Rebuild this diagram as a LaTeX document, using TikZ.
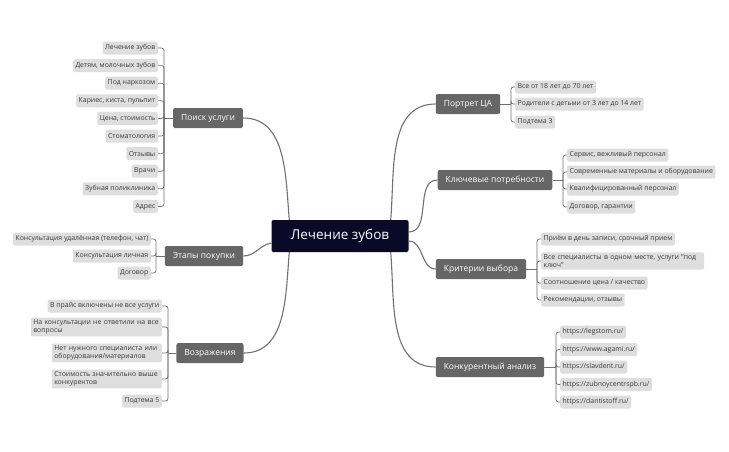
\documentclass[tikz,border=0pt]{standalone}
\usepackage{fontspec}
\setmainfont{Open Sans}
\usetikzlibrary{calc}
\begin{document}
\begin{tikzpicture}[x=1pt,y=-1pt,
 central/.style={fill=cdark,text=white,rounded corners=2pt,minimum width=137pt,minimum height=32pt,font=\fontsize{13.5}{15}\selectfont},
 topic/.style={fill=ctop,text=white,rounded corners=2pt,minimum height=20pt,inner xsep=8pt,font=\fontsize{8.5}{10}\selectfont},
 leaf/.style={fill=cleaf,text=ctext,rounded corners=2pt,inner xsep=2.5pt,inner ysep=2pt,minimum height=13pt,font=\fontsize{6.9}{8.3}\selectfont},
 leafL/.style={leaf,anchor=east},
 leafR/.style={leaf,anchor=west},
 ml/.style={text width=#1,align=left},
 br/.style={draw=cline,line width=0.7pt,rounded corners=2.5pt},
 main/.style={draw=cline,line width=1.1pt}]
\definecolor{cdark}{HTML}{0A0A28}
\definecolor{ctop}{HTML}{666666}
\definecolor{cleaf}{HTML}{DEDEDE}
\definecolor{ctext}{HTML}{3A3A3A}
\definecolor{cline}{HTML}{707070}
\useasboundingbox (0,0) rectangle (729,451);
\node[central] (c) at (340,236) {Лечение зубов};
% topics
\node[topic] (p) at (208,118) {Поиск услуги};
\node[topic] (e) at (204,256) {Этапы покупки};
\node[topic] (v) at (210,353) {Возражения};
\node[topic] (pc) at (468,104) {Портрет ЦА};
\node[topic] (k) at (495,180) {Ключевые потребности};
\node[topic] (kr) at (481,269) {Критерии выбора};
\node[topic] (ka) at (490,367) {Конкурентный анализ};
% main connectors
\draw[main] (p.east) to[out=0,in=95] ($(c.north west)+(18,0)$);
\draw[main] (e.east) to[out=0,in=190] ($(c.west)+(0,7)$);
\draw[main] (v.east) to[out=0,in=-95] ($(c.south west)+(18,0)$);
\draw[main] (pc.west) to[out=180,in=85] ($(c.north east)+(-18,0)$);
\draw[main] (k.west) to[out=180,in=0] ($(c.east)+(0,-4)$);
\draw[main] (kr.west) to[out=180,in=0] ($(c.east)+(0,5)$);
\draw[main] (ka.west) to[out=180,in=-85] ($(c.south east)+(-18,0)$);
% Поиск услуги leaves
\coordinate (bp) at (164,118);
\draw[br] (p.west) -- (bp);
\foreach \t [count=\i] in {Лечение зубов,{Детям, молочных зубов},Под наркозом,{Кариес, киста, пульпит},{Цена, стоимость},Стоматология,Отзывы,Врачи,Зубная поликлиника,Адрес}{
 \node[leafL] (p\i) at (158,{48+17.6*(\i-1)}) {\t};
 \draw[br] (bp) |- (p\i.east);
}
% Этапы покупки
\coordinate (be) at (156,256);
\draw[br] (e.west) -- (be);
\node[leafL] (e1) at (151,239) {Консультация удалённая (телефон, чат)};
\node[leafL] (e2) at (151,256) {Консультация личная};
\node[leafL] (e3) at (151,273) {Договор};
\foreach \i in {1,2,3}{\draw[br] (be) |- (e\i.east);}
% Возражения
\coordinate (bv) at (168,353);
\draw[br] (v.west) -- (bv);
\node[leafL] (v1) at (162,306) {В прайс включены не все услуги};
\node[leafL,ml=126pt] (v2) at (162,327) {На консультации не ответили на все вопросы};
\node[leafL,ml=105pt] (v3) at (162,353) {Нет нужного специалиста или оборудования/материалов};
\node[leafL,ml=105pt] (v4) at (162,379) {Стоимость значительно выше конкурентов};
\node[leafL] (v5) at (162,401) {Подтема 5};
\foreach \i in {1,...,5}{\draw[br] (bv) |- (v\i.east);}
% Портрет ЦА
\coordinate (bpc) at (511,104);
\draw[br] (pc.east) -- (bpc);
\node[leafR] (pc1) at (515,87) {Все от 18 лет до 70 лет};
\node[leafR] (pc2) at (515,104) {Родители с детьми от 3 лет до 14 лет};
\node[leafR] (pc3) at (515,122) {Подтема 3};
\foreach \i in {1,2,3}{\draw[br] (bpc) |- (pc\i.west);}
% Ключевые потребности
\coordinate (bk) at (563,180);
\draw[br] (k.east) -- (bk);
\node[leafR] (k1) at (567,155) {Сервис, вежливый персонал};
\node[leafR] (k2) at (567,172) {Современные материалы и оборудование};
\node[leafR] (k3) at (567,189) {Квалифицированный персонал};
\node[leafR] (k4) at (567,207) {Договор, гарантии};
\foreach \i in {1,...,4}{\draw[br] (bk) |- (k\i.west);}
% Критерии выбора
\coordinate (bkr) at (537,269);
\draw[br] (kr.east) -- (bkr);
\node[leafR] (kr1) at (541,239) {Приём в день записи, срочный прием};
\node[leafR,ml=158pt] (kr2) at (541,261) {Все специалисты в одном месте, услуги "под ключ"};
\node[leafR] (kr3) at (541,283) {Соотношение цена / качество};
\node[leafR] (kr4) at (541,300) {Рекомендации, отзывы};
\foreach \i in {1,...,4}{\draw[br] (bkr) |- (kr\i.west);}
% Конкурентный анализ
\coordinate (bka) at (556,367);
\draw[br] (ka.east) -- (bka);
\foreach \t [count=\i] in {https://legstom.ru/,https://www.agami.ru/,https://slavdent.ru/,https://zubnoycentrspb.ru/,https://dantistoff.ru/}{
 \node[leafR] (ka\i) at (560,{332+17.5*(\i-1)}) {\t};
 \draw[br] (bka) |- (ka\i.west);
}
\end{tikzpicture}
\end{document}
